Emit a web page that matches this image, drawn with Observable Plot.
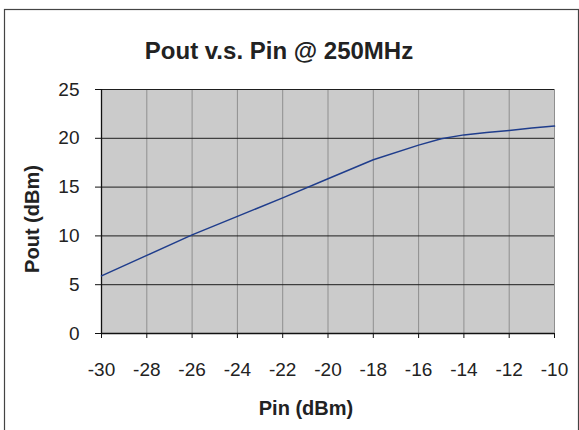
<!DOCTYPE html>
<html>
<head>
<meta charset="utf-8">
<script src="https://cdn.jsdelivr.net/npm/d3@7"></script>
<script src="https://cdn.jsdelivr.net/npm/@observablehq/plot@0.6"></script>
<style>
  html, body { margin: 0; padding: 0; background: #fff; }
  svg { display: block; }
</style>
</head>
<body>
<div id="chart"></div>
<script>
const pin  = [-30, -28, -26, -24, -22, -20, -18, -16, -15, -14, -13, -12, -11, -10];
const pout = [5.9, 8.0, 10.1, 12.0, 13.9, 15.85, 17.8, 19.3, 19.95, 20.35, 20.6, 20.8, 21.05, 21.25];
const xTicks = [-30, -28, -26, -24, -22, -20, -18, -16, -14, -12, -10];
const yTicks = [0, 5, 10, 15, 20, 25];
const titleText = "Pout v.s. Pin @ 250MHz";
const xLabel = "Pin (dBm)";
const yLabel = "Pout (dBm)";

const data = pin.map((p, i) => ({pin: p, pout: pout[i]}));
const font = "Liberation Sans, Arial, Helvetica, sans-serif";

const chart = Plot.plot({
  width: 579,
  height: 430,
  marginLeft: 101,
  marginRight: 25,
  marginTop: 89,
  marginBottom: 97,
  style: {fontFamily: font, fontSize: "20px", color: "#222", background: "#fff"},
  x: {domain: [-30, -10]},
  y: {domain: [0, 25]},
  marks: [
    Plot.frame({fill: "#cbcbcb", stroke: null}),
    Plot.gridX(xTicks, {stroke: "#8f8f8f", strokeOpacity: 1, strokeWidth: 1}),
    Plot.gridY(yTicks, {stroke: "#1e1e1e", strokeOpacity: 1, strokeWidth: 1}),
    Plot.ruleX([-30], {stroke: "#111", strokeWidth: 1.3}),
    Plot.ruleY([0], {stroke: "#111", strokeWidth: 1.3}),
    Plot.line(data, {x: "pin", y: "pout", stroke: "#1f3d8c", strokeWidth: 1.5}),
    Plot.axisX(xTicks, {tickSize: 5, tickPadding: 24, label: null, fontSize: 19, stroke: "#111", fill: "#222", tickFormat: d => String(d)}),
    Plot.axisY(yTicks, {tickSize: 6, tickPadding: 16, label: null, fontSize: 19, stroke: "#111", fill: "#222", tickFormat: d => String(d)})
  ]
});

const svg = d3.select(chart);
svg.append("rect")
  .attr("x", 4.5).attr("y", 9.5)
  .attr("width", 574).attr("height", 440)
  .attr("fill", "none").attr("stroke", "#444").attr("stroke-width", 1.2);

svg.append("text")
  .attr("x", 279).attr("y", 59)
  .attr("text-anchor", "middle")
  .attr("font-family", font).attr("font-weight", "bold").attr("font-size", 24)
  .attr("fill", "#222")
  .text(titleText);

svg.append("text")
  .attr("x", 306).attr("y", 415)
  .attr("text-anchor", "middle")
  .attr("font-family", font).attr("font-weight", "bold").attr("font-size", 20)
  .attr("fill", "#222")
  .text(xLabel);

svg.append("text")
  .attr("transform", "translate(39,219) rotate(-90)")
  .attr("text-anchor", "middle")
  .attr("font-family", font).attr("font-weight", "bold").attr("font-size", 20)
  .attr("fill", "#222")
  .text(yLabel);

document.getElementById("chart").appendChild(chart);
</script>
</body>
</html>
